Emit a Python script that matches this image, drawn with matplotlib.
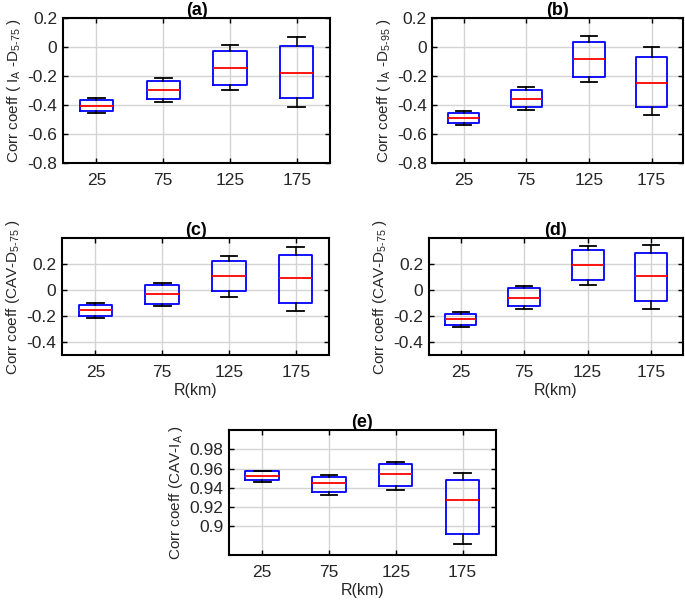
import numpy as np
import matplotlib
matplotlib.use("Agg")
import matplotlib.pyplot as plt

plt.rcParams['font.family'] = ['Liberation Sans', 'DejaVu Sans']
plt.rcParams['mathtext.fontset'] = 'custom'
plt.rcParams['mathtext.rm'] = 'Liberation Sans'
plt.rcParams['mathtext.it'] = 'Liberation Sans:italic'
plt.rcParams['mathtext.default'] = 'regular'

distances = ['25', '75', '125', '175']

# box statistics per panel: lower whisker, q1, median, q3, upper whisker
a_whislo = [-0.455, -0.379, -0.301, -0.414]
a_q1 = [-0.442, -0.359, -0.264, -0.354]
a_med = [-0.405, -0.299, -0.149, -0.182]
a_q3 = [-0.368, -0.234, -0.030, 0.005]
a_whishi = [-0.356, -0.218, 0.012, 0.067]

b_whislo = [-0.536, -0.437, -0.241, -0.471]
b_q1 = [-0.524, -0.416, -0.205, -0.414]
b_med = [-0.490, -0.359, -0.087, -0.250]
b_q3 = [-0.455, -0.299, 0.034, -0.067]
b_whishi = [-0.441, -0.280, 0.074, 0.000]

c_whislo = [-0.214, -0.124, -0.054, -0.157]
c_q1 = [-0.198, -0.103, -0.010, -0.095]
c_med = [-0.154, -0.031, 0.106, 0.093]
c_q3 = [-0.111, 0.036, 0.224, 0.273]
c_whishi = [-0.095, 0.059, 0.263, 0.332]

d_whislo = [-0.281, -0.147, 0.036, -0.144]
d_q1 = [-0.265, -0.124, 0.077, -0.080]
d_med = [-0.221, -0.057, 0.196, 0.108]
d_q3 = [-0.180, 0.013, 0.306, 0.288]
d_whishi = [-0.165, 0.033, 0.342, 0.347]

e_whislo = [0.946, 0.933, 0.9375, 0.881]
e_q1 = [0.948, 0.936, 0.9414, 0.8923]
e_med = [0.952, 0.9446, 0.9547, 0.927]
e_q3 = [0.957, 0.951, 0.9646, 0.948]
e_whishi = [0.958, 0.953, 0.967, 0.9554]


def make_stats(lo, q1, med, q3, hi):
    return [dict(whislo=lo[i], q1=q1[i], med=med[i], q3=q3[i], whishi=hi[i], fliers=[])
            for i in range(len(med))]


def draw_panel(rect, stats, title, ylabel, ylim, yticks, yticklabels, xlabel=None):
    ax = fig.add_axes(rect)
    ax.bxp(stats, positions=[1, 2, 3, 4], widths=0.5, capwidths=0.25,
           showfliers=False,
           boxprops=dict(color='#0000ff', linewidth=1.3),
           medianprops=dict(color='#ff0000', linewidth=1.3),
           whiskerprops=dict(color='black', linewidth=1.1),
           capprops=dict(color='black', linewidth=1.3))
    ax.set_xlim(0.5, 4.5)
    ax.set_ylim(*ylim)
    ax.set_xticks([1, 2, 3, 4])
    ax.set_xticklabels(distances)
    ax.set_yticks(yticks)
    ax.set_yticklabels(yticklabels)
    ax.grid(True, color='#d4d4d4', linewidth=1)
    ax.set_axisbelow(True)
    ax.tick_params(direction='in', length=3.5, top=True, right=True, labelsize=12.5,
                   width=1, labelcolor='#262626')
    ax.tick_params(axis='x', pad=7)
    ax.tick_params(axis='y', pad=4)
    for s in ax.spines.values():
        s.set_linewidth(1.5)
    ax.set_title(title, fontsize=13, fontweight='bold', pad=2)
    ax.set_ylabel(ylabel, fontsize=11, color='#262626', labelpad=3)
    if xlabel:
        ax.set_xlabel(xlabel, fontsize=11.5, color='#262626', labelpad=2)
    return ax


fig = plt.figure(figsize=(6.85, 6.03), dpi=100)

draw_panel([0.092, 0.730, 0.390, 0.2405], make_stats(a_whislo, a_q1, a_med, a_q3, a_whishi),
           '(a)', 'Corr coeff ( I$_A$ -D$_{5\u201075}$ )', (-0.8, 0.2),
           [-0.8, -0.6, -0.4, -0.2, 0, 0.2], ['-0.8', '-0.6', '-0.4', '-0.2', '0', '0.2'])
draw_panel([0.631, 0.730, 0.366, 0.2405], make_stats(b_whislo, b_q1, b_med, b_q3, b_whishi),
           '(b)', 'Corr coeff ( I$_A$ -D$_{5\u201095}$ )', (-0.8, 0.2),
           [-0.8, -0.6, -0.4, -0.2, 0, 0.2], ['-0.8', '-0.6', '-0.4', '-0.2', '0', '0.2'])
draw_panel([0.0905, 0.411, 0.390, 0.194], make_stats(c_whislo, c_q1, c_med, c_q3, c_whishi),
           '(c)', 'Corr coeff (CAV-D$_{5\u201075}$ )', (-0.5, 0.4),
           [-0.4, -0.2, 0, 0.2], ['-0.4', '-0.2', '0', '0.2'], xlabel='R(km)')
draw_panel([0.626, 0.411, 0.371, 0.194], make_stats(d_whislo, d_q1, d_med, d_q3, d_whishi),
           '(d)', 'Corr coeff (CAV-D$_{5\u201075}$ )', (-0.5, 0.4),
           [-0.4, -0.2, 0, 0.2], ['-0.4', '-0.2', '0', '0.2'], xlabel='R(km)')
draw_panel([0.334, 0.0796, 0.390, 0.207], make_stats(e_whislo, e_q1, e_med, e_q3, e_whishi),
           '(e)', 'Corr coeff (CAV-I$_A$ )', (0.87, 1.0),
           [0.9, 0.92, 0.94, 0.96, 0.98], ['0.9', '0.92', '0.94', '0.96', '0.98'], xlabel='R(km)')

fig.savefig('out.png', dpi=100)
